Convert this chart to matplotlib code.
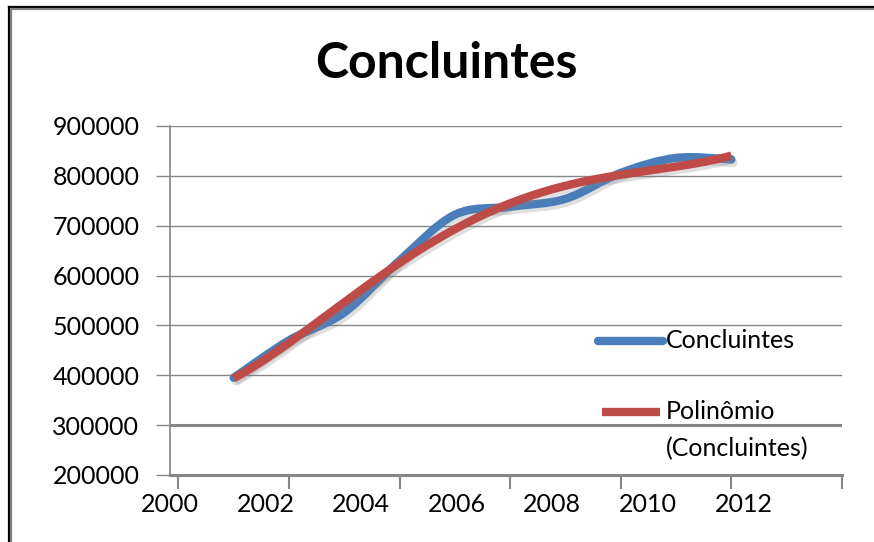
import matplotlib
matplotlib.use("Agg")
import matplotlib.pyplot as plt
import matplotlib.patheffects as pe
from matplotlib.path import Path
from matplotlib.patches import PathPatch
from matplotlib.lines import Line2D
import numpy as np

# values
years = [2001, 2002, 2003, 2004, 2005, 2006, 2007, 2008, 2009, 2010]
concluintes = [395000, 470000, 526000, 630000, 722000, 738000, 754000, 806000, 836000, 833000]
trend_order = 4
tick_years = [2000, 2002, 2004, 2006, 2008, 2010, 2012]
y_ticks = [200000, 300000, 400000, 500000, 600000, 700000, 800000, 900000]
title = "Concluintes"
series_label = "Concluintes"
trend_label = "Polinômio\n(Concluintes)"

BLUE = "#4a7ebb"
RED = "#be4b48"
GRID = "#868686"

# the year labels in the picture sit on a narrower scale than the tick marks
LABEL_SCALE = 0.864
LABEL_SHIFT = -0.15

plt.rcParams["font.family"] = ["Lato", "DejaVu Sans"]


def smooth_path(xs, ys):
    # Catmull-Rom style smoothing like Excel's "smoothed line"
    pts = np.column_stack([xs, ys]).astype(float)
    ext = np.vstack([pts[0], pts, pts[-1]])
    verts = [pts[0]]
    codes = [Path.MOVETO]
    for i in range(len(pts) - 1):
        p0, p1, p2, p3 = ext[i], ext[i + 1], ext[i + 2], ext[i + 3]
        verts += [p1 + (p2 - p0) / 6, p2 - (p3 - p1) / 6, p2]
        codes += [Path.CURVE4] * 3
    return Path(verts, codes)


W, H = 874, 542
fig = plt.figure(figsize=(W / 100, H / 100), dpi=100)
ax = fig.add_axes([170 / W, 67 / H, 672 / W, 349 / H])

shadow = [pe.SimpleLineShadow(offset=(1.5, -2.5), shadow_color="gray", alpha=0.25), pe.Normal()]

curve = PathPatch(smooth_path(years, concluintes), fill=False, edgecolor=BLUE,
                  lw=6, capstyle="round", joinstyle="round", zorder=3)
curve.set_path_effects(shadow)
ax.add_patch(curve)

# polynomial trendline (Excel "Polinômio")
xr = np.array(years, dtype=float) - 2000
coef = np.polyfit(xr, concluintes, trend_order)
xs = np.linspace(xr[0], xr[-1], 200)
ax.plot(xs + 2000, np.polyval(coef, xs), color=RED, lw=6,
        solid_capstyle="butt", zorder=4, path_effects=shadow)

ax.set_xlim(2000, 2012)
ax.set_ylim(200000, 900000)

ax.set_yticks(y_ticks)
ax.set_yticklabels([str(v) for v in y_ticks])
ax.grid(axis="y", color=GRID, lw=1.0, zorder=0)
ax.axhline(300000, color=GRID, lw=2.2, zorder=1)

ax.set_xticks(tick_years)
ax.set_xticklabels([""] * len(tick_years))
label_pos = [2000 + (y - 2000) * LABEL_SCALE + LABEL_SHIFT for y in tick_years]
ax.set_xticks(label_pos, minor=True)
ax.set_xticklabels([str(y) for y in tick_years], minor=True)

for side in ["top", "right"]:
    ax.spines[side].set_visible(False)
ax.spines["left"].set_color(GRID)
ax.spines["left"].set_linewidth(1.2)
ax.spines["bottom"].set_color(GRID)
ax.spines["bottom"].set_linewidth(2.2)

ax.tick_params(axis="y", direction="out", length=10, width=1, color=GRID,
               labelsize=18, pad=12, labelcolor="black")
ax.tick_params(axis="x", which="major", direction="out", length=10, width=1.5, color=GRID)
ax.tick_params(axis="x", which="minor", length=0, labelsize=18, pad=13, labelcolor="black")

# legend, laid out like the Excel one
ax.add_line(Line2D([0.637, 0.734], [0.385, 0.385], transform=ax.transAxes,
                   color=BLUE, lw=6, solid_capstyle="round", clip_on=False))
ax.text(0.738, 0.385, series_label, transform=ax.transAxes, fontsize=18,
        va="center", ha="left")
ax.add_line(Line2D([0.643, 0.729], [0.181, 0.181], transform=ax.transAxes,
                   color=RED, lw=6, solid_capstyle="butt", clip_on=False))
first, second = trend_label.split("\n")
ax.text(0.738, 0.181, first, transform=ax.transAxes, fontsize=18, va="center", ha="left")
ax.text(0.738, 0.076, second, transform=ax.transAxes, fontsize=18, va="center", ha="left")

fig.text(446.5 / W, 1 - 78 / H, title, fontsize=36, fontweight="bold",
         ha="center", va="baseline")

# chart frame: dark line with a grey inner line on top and left
fig.add_artist(Line2D([9 / W, 1], [1 - 7 / H, 1 - 7 / H], color="black", lw=1.6))
fig.add_artist(Line2D([11 / W, 1], [1 - 9 / H, 1 - 9 / H], color="#808080", lw=1.6))
fig.add_artist(Line2D([9 / W, 9 / W], [0, 1 - 7 / H], color="black", lw=1.6))
fig.add_artist(Line2D([11 / W, 11 / W], [0, 1 - 9 / H], color="#808080", lw=1.6))

fig.savefig("out.png", dpi=100)
